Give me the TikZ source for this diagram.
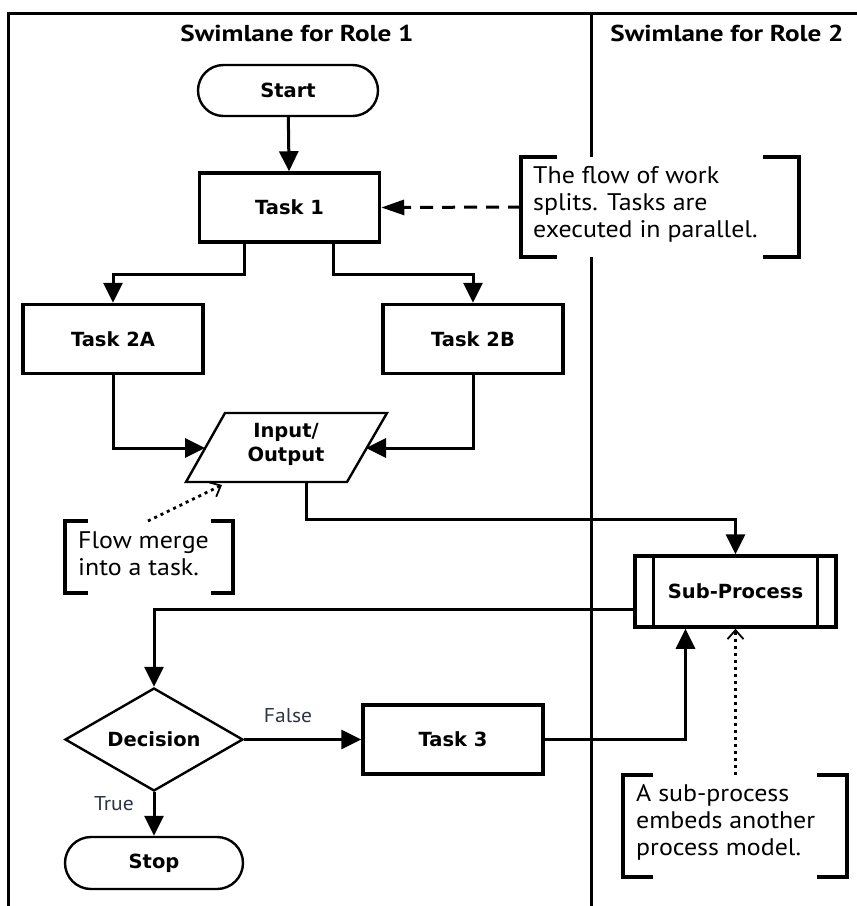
\documentclass[tikz,border=0pt]{standalone}
\usepackage{fontspec}
\setmainfont{PT Sans}
\newfontfamily\boxfont{DejaVu Sans}
\newfontfamily\headfont[FakeStretch=1.18]{PT Sans}
\newfontfamily\notefont[FakeStretch=1.08]{PT Sans}
\usetikzlibrary{arrows.meta,calc,shapes.geometric}
\definecolor{labelink}{RGB}{45,52,70}

\begin{document}
\begin{tikzpicture}[x=1pt,y=-1pt,
  lane/.style={line width=3pt},
  conn/.style={line width=3pt,-{Triangle[length=20pt,width=19pt]}},
  boxtext/.style={font=\boxfont\bfseries\fontsize{19.5}{23}\selectfont},
  taskbox/.style={boxtext,draw,line width=3.5pt,minimum width=180pt,minimum height=69pt,inner sep=0pt},
  term/.style={boxtext,draw,line width=2.4pt,rounded corners=25.5pt,minimum width=180pt,minimum height=51pt,inner sep=0pt},
  decbox/.style={boxtext,draw,line width=2.4pt,shape=diamond,aspect=1.73,minimum width=178pt,minimum height=103pt,inner sep=0pt},
  note/.style={align=left,anchor=west,inner sep=0pt,font=\notefont\fontsize{24}{27}\selectfont},
  bracket/.style={line width=3.5pt},
  hint/.style={line width=2.8pt,dash pattern=on 3pt off 4pt,-{Straight Barb[length=9pt,width=16pt,line width=1.8pt]}},
  guide/.style={line width=3pt,dash pattern=on 13pt off 9pt,-{Triangle[length=23pt,width=15pt]}},
  head/.style={font=\headfont\bfseries\fontsize{23}{27}\selectfont},
  lbl/.style={font=\notefont\fontsize{20}{23}\selectfont,text=labelink}
]
\useasboundingbox (0,0) rectangle (857,906);

% swimlane frame and headers
\draw[lane] (8,906) -- (8,13) -- (857,13);
\draw[lane] (591,13) -- (591,906);
\node[head] (h1) at (297,33) {Swimlane for Role 1};
\node[head] (h2) at (727,33) {Swimlane for Role 2};

% flow elements
\node[term] (start) at (288,90.5) {Start};
\node[taskbox] (t1) at (289.5,207.5) {Task 1};
\node[taskbox] (t2a) at (113,339) {Task 2A};
\node[taskbox] (t2b) at (473,339) {Task 2B};

% input/output parallelogram
\coordinate (io-tl) at (225,413);
\coordinate (io-tr) at (387,413);
\coordinate (io-br) at (347,482);
\coordinate (io-bl) at (186,482);
\draw[line width=2.4pt,line join=miter] (io-tl) -- (io-tr) -- (io-br) -- (io-bl) -- cycle;
\node[boxtext,align=center,inner sep=0pt] (io) at (286,444) {Input/\\[1pt]Output};
\coordinate (io-w) at (205,448);
\coordinate (io-e) at (366,448);
\coordinate (io-s) at (306,482);
\coordinate (io-hint) at (222,485);

% sub-process
\node[boxtext,draw,line width=3.5pt,minimum width=201pt,minimum height=71pt,inner sep=0pt] (sp) at (735.5,591.5) {Sub-Process};
\draw[line width=3pt] ($(sp.north west)+(20,0)$) -- ($(sp.south west)+(20,0)$);
\draw[line width=3pt] ($(sp.north east)+(-20,0)$) -- ($(sp.south east)+(-20,0)$);

\node[decbox] (dec) at (154,739.5) {Decision};
\node[taskbox] (t3) at (453,739.5) {Task 3};
\node[term,minimum width=178pt,minimum height=52pt,rounded corners=26pt] (stop) at (154,863) {Stop};

% connectors
\draw[conn] (start) -- (t1);
\draw[conn] ($(t1.south)+(-45.5,0)$) -- ++(0,31) -| (t2a.north);
\draw[conn] ($(t1.south)+(43.5,0)$) -- ++(0,31) -| (t2b.north);
\draw[conn] (t2a.south) |- (io-w);
\draw[conn] (t2b.south) |- (io-e);
\draw[conn] (io-s) -- ++(0,37) -| (sp.north);
\draw[conn] ($(sp.west)+(0,17.5)$) -| (dec.north);
\draw[conn] (dec.east) -- (t3.west);
\draw[conn] (dec.south) -- (stop.north);
\draw[conn] (t3.east) -| ($(sp.south)+(-50,0)$);
\node[lbl] (lfalse) at (288,716) {False};
\node[lbl] (ltrue) at (114,804) {True};

% annotation: split
\fill[white] (521,157) rectangle (799,257);
\draw[bracket] (557,157) -- (521,157) -- (521,257) -- (557,257);
\draw[bracket] (763,157) -- (799,157) -- (799,257) -- (763,257);
\node[note] (n1) at (533,204) {The flow of work\\splits. Tasks are\\executed in parallel.};
\coordinate (n1-w) at (521,207);
\draw[guide] (n1-w) -- (t1.east);

% annotation: merge
\draw[bracket] (88,521) -- (65,521) -- (65,593) -- (88,593);
\draw[bracket] (211,521) -- (233,521) -- (233,593) -- (211,593);
\node[note] (n2) at (78,554) {Flow merge\\into a task.};
\coordinate (n2-top) at (148,521);
\draw[hint] (n2-top) -- (io-hint);

% annotation: sub-process
\draw[bracket] (653,775) -- (623,775) -- (623,877) -- (653,877);
\draw[bracket] (817,775) -- (847,775) -- (847,877) -- (817,877);
\node[note] (n3) at (636,822) {A sub-process\\embeds another\\process model.};
\coordinate (n3-top) at (735.5,775);
\draw[hint] (n3-top) -- (sp.south);
\end{tikzpicture}
\end{document}
